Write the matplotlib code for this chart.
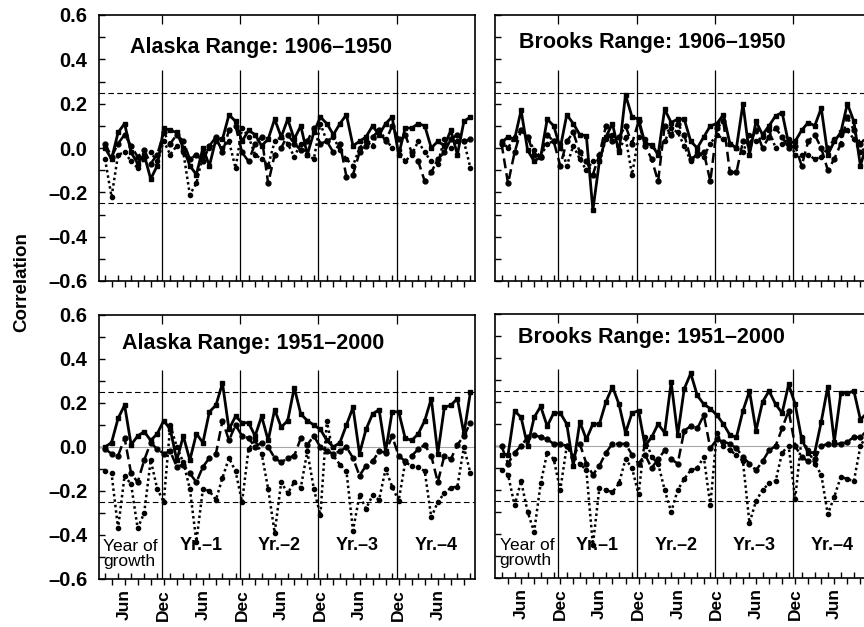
import numpy as np
import matplotlib
matplotlib.use("Agg")
from matplotlib import pyplot as plt
from matplotlib.ticker import FixedLocator, MultipleLocator

plt.rcParams['font.family'] = ['Liberation Sans', 'DejaVu Sans']

# month index 0 = Mar of the year of growth ... 56 = Nov of Yr.-4
month_names = ['Mar', 'Apr', 'May', 'Jun', 'Jul', 'Aug', 'Sep', 'Oct', 'Nov', 'Dec', 'Jan', 'Feb']
labelled_months = ['Jun', 'Dec']
block_labels = ['Yr.\u20131', 'Yr.\u20132', 'Yr.\u20133', 'Yr.\u20134']
first_block_label = 'Year of\ngrowth'
y_ticks = [-0.6, -0.4, -0.2, 0.0, 0.2, 0.4, 0.6]
y_ticklabels = ['\u20130.6', '\u20130.4', '\u20130.2', '0.0', '0.2', '0.4', '0.6']
signif = 0.25

# Alaska Range 1906-1950
ak_early_solid = [0.00, -0.05, 0.07, 0.11, -0.02, -0.07, -0.03, -0.14, -0.08, 0.09,
                  0.08, 0.07, 0.00, -0.08, -0.12, 0.00, -0.08, 0.04, 0.04, 0.15, 0.12, 0.03,
                  0.08, 0.06, 0.01, 0.04, 0.13, 0.05, 0.13, 0.04, 0.10, -0.03, 0.07, 0.14,
                  0.11, 0.06, 0.11, 0.15, 0.01, 0.03, 0.05, 0.10, 0.06, 0.11, 0.14, -0.03,
                  0.09, 0.09, 0.11, 0.10, 0.00, 0.03, 0.01, 0.08, -0.03, 0.12, 0.14]
ak_early_dashed = [0.02, -0.04, 0.02, 0.06, 0.01, -0.04, -0.01, -0.07, -0.03, 0.07,
                   0.02, 0.06, 0.03, -0.05, -0.03, -0.06, 0.01, 0.05, -0.02, 0.08, 0.10, -0.02,
                   -0.06, 0.02, 0.05, -0.16, -0.03, 0.00, 0.06, 0.02, -0.01, 0.03, 0.09, 0.02,
                   0.03, -0.02, 0.02, -0.13, -0.12, -0.02, 0.01, 0.05, 0.08, 0.03, 0.10, 0.04,
                   0.06, -0.02, -0.06, -0.15, -0.11, -0.05, -0.02, 0.04, 0.06, 0.03, 0.04]
ak_early_dotted = [-0.05, -0.22, -0.03, -0.02, -0.06, -0.09, -0.05, -0.02, -0.06, 0.03,
                   -0.03, 0.01, -0.02, -0.21, -0.16, -0.03, 0.00, 0.03, 0.00, 0.03, -0.09, 0.09,
                   0.05, -0.03, -0.05, -0.08, 0.03, 0.05, 0.02, -0.04, 0.02, -0.03, -0.05, 0.11,
                   0.03, 0.05, -0.01, -0.05, -0.08, 0.00, 0.03, 0.01, 0.08, 0.04, 0.00, -0.01,
                   -0.06, -0.03, 0.03, -0.02, -0.06, -0.07, 0.04, 0.00, 0.03, 0.03, -0.09]

# Brooks Range 1906-1950
br_early_solid = [0.025, 0.05, 0.04, 0.17, -0.01, -0.06, -0.04, 0.13, 0.10, 0.00,
                  0.15, 0.11, 0.06, 0.055, -0.28, -0.06, 0.05, 0.11, -0.02, 0.24, 0.14, 0.13,
                  0.02, 0.015, -0.03, 0.175, 0.115, 0.13, 0.13, 0.03, 0.00, 0.05, 0.10, 0.11,
                  0.15, 0.02, 0.00, 0.20, -0.03, 0.12, 0.06, 0.10, 0.145, 0.16, 0.02, 0.03,
                  0.08, 0.115, 0.10, 0.18, -0.03, 0.03, 0.07, 0.20, 0.12, -0.08, 0.02]
br_early_dashed = [0.02, -0.16, -0.02, 0.08, 0.05, -0.03, -0.04, 0.06, 0.03, -0.08,
                   0.03, 0.07, -0.02, -0.06, -0.12, -0.03, 0.10, 0.03, 0.05, 0.10, 0.02, 0.12,
                   0.01, -0.05, -0.15, 0.10, 0.06, 0.11, 0.06, -0.05, -0.03, -0.02, -0.15, 0.09,
                   0.12, -0.11, -0.11, 0.03, 0.02, 0.08, 0.00, 0.05, 0.09, 0.05, 0.00, 0.01,
                   -0.08, 0.03, 0.06, 0.00, -0.10, -0.05, 0.02, 0.14, 0.08, 0.02, 0.05]
br_early_dotted = [0.03, 0.00, 0.05, 0.08, 0.05, -0.01, -0.04, 0.02, 0.03, 0.02,
                   -0.08, 0.01, -0.05, -0.10, -0.06, -0.06, 0.04, 0.06, -0.01, 0.05, -0.12, 0.05,
                   0.04, 0.01, -0.02, 0.03, 0.09, 0.07, 0.01, -0.06, -0.02, -0.04, 0.02, 0.06,
                   0.04, 0.02, 0.00, -0.02, 0.06, 0.03, 0.05, 0.08, 0.00, 0.02, 0.04, -0.03,
                   -0.03, -0.03, -0.05, -0.04, 0.00, 0.04, 0.06, 0.08, 0.04, -0.02, 0.01]

# Alaska Range 1951-2000
ak_late_solid = [0.00, 0.02, 0.13, 0.19, 0.01, 0.05, 0.07, 0.03, 0.06, 0.12,
                 0.08, -0.06, 0.05, -0.06, 0.06, 0.02, 0.16, 0.19, 0.29, 0.08, 0.14, 0.11,
                 0.11, 0.05, 0.14, 0.03, 0.17, 0.09, 0.12, 0.27, 0.15, 0.12, 0.10, 0.08,
                 0.03, 0.00, 0.02, 0.10, 0.18, -0.03, 0.08, 0.15, 0.17, -0.02, 0.16, 0.16,
                 0.04, 0.03, 0.06, 0.12, 0.22, -0.03, 0.18, 0.19, 0.22, 0.06, 0.25]
ak_late_dashed = [-0.01, -0.03, -0.04, 0.04, -0.12, -0.16, -0.06, 0.02, -0.01, -0.03,
                  -0.02, -0.09, -0.08, -0.12, -0.16, -0.09, -0.05, -0.03, 0.12, 0.03, 0.10, 0.05,
                  0.04, 0.00, 0.02, 0.00, -0.05, -0.07, -0.05, -0.04, 0.04, 0.01, 0.05, 0.00,
                  -0.02, -0.03, -0.02, 0.00, -0.05, -0.13, -0.085, -0.065, -0.02, -0.025, 0.05, -0.04,
                  -0.065, -0.04, -0.01, 0.01, -0.04, -0.16, -0.04, -0.055, 0.01, 0.05, 0.11]
ak_late_dotted = [-0.11, -0.12, -0.37, -0.13, -0.17, -0.37, -0.30, -0.06, -0.19, -0.25,
                  0.10, 0.00, -0.07, -0.19, -0.43, -0.19, -0.20, -0.24, -0.14, -0.05, -0.11, -0.25,
                  -0.01, 0.03, -0.03, -0.19, -0.39, -0.16, -0.21, -0.16, -0.185, -0.02, -0.19, -0.31,
                  0.12, -0.04, -0.08, -0.11, -0.38, -0.22, -0.28, -0.22, -0.24, -0.10, -0.18, -0.245,
                  -0.07, -0.085, -0.09, -0.11, -0.32, -0.25, -0.21, -0.185, -0.18, 0.00, -0.12]

# Brooks Range 1951-2000
br_late_solid = [-0.04, -0.04, 0.16, 0.13, 0.00, 0.13, 0.18, 0.09, 0.15, 0.15,
                 0.10, -0.09, 0.11, 0.03, 0.10, 0.10, 0.20, 0.27, 0.19, 0.06, 0.15, 0.16,
                 0.00, 0.04, 0.10, 0.06, 0.29, 0.05, 0.26, 0.33, 0.23, 0.19, 0.17, 0.14,
                 0.10, 0.05, 0.04, 0.16, 0.25, 0.07, 0.20, 0.25, 0.19, 0.15, 0.28, 0.19,
                 0.03, -0.03, -0.03, 0.11, 0.27, 0.02, 0.24, 0.24, 0.25, 0.12, 0.15]
br_late_dashed = [0.00, -0.08, -0.03, 0.00, 0.04, 0.05, 0.04, 0.03, 0.01, 0.01,
                  0.00, -0.05, 0.01, -0.08, -0.13, -0.09, -0.03, 0.01, 0.01, 0.01, -0.04, -0.08,
                  -0.04, -0.10, -0.06, -0.02, -0.06, -0.08, 0.07, 0.09, 0.08, 0.14, -0.01, 0.03,
                  0.02, 0.01, -0.01, -0.05, -0.08, -0.11, -0.07, -0.02, 0.00, 0.08, 0.16, 0.00,
                  -0.05, -0.07, -0.06, 0.00, 0.01, 0.01, 0.01, 0.02, 0.04, 0.04, 0.07]
br_late_dotted = [-0.11, -0.13, -0.27, -0.16, -0.30, -0.39, -0.17, -0.03, -0.06, -0.20,
                  0.00, -0.05, -0.08, -0.11, -0.45, -0.19, -0.20, -0.21, -0.17, -0.06, -0.10, -0.22,
                  0.04, -0.05, -0.08, -0.20, -0.30, -0.20, -0.15, -0.11, -0.10, -0.05, -0.27, 0.06,
                  0.00, -0.02, -0.04, -0.07, -0.35, -0.25, -0.20, -0.17, -0.16, -0.03, 0.00, -0.24,
                  0.04, -0.02, -0.08, -0.13, -0.31, -0.23, -0.14, -0.15, -0.16, 0.00, 0.05]

months = np.arange(len(ak_late_solid))
x_lo, x_hi = -1.0, 56.7
year_breaks = [8.7, 20.7, 32.7, 44.7]


def draw_panel(ax, title, title_pos, solid, dashed, dotted, lower, left):
    ax.set_xlim(x_lo, x_hi)
    ax.set_ylim(-0.6, 0.6)

    ax.axhline(signif, color='black', lw=0.8, dashes=(5, 3))
    ax.axhline(-signif, color='black', lw=0.8, dashes=(5, 3))
    if lower:
        ax.axhline(0.0, color='0.65', lw=0.8)
    ax.vlines(year_breaks, -0.6, 0.35, color='black', lw=0.9)
    # short marks on the top edge at the year breaks
    ax.vlines(year_breaks, 0.56, 0.6, color='black', lw=0.9)

    ax.plot(months, solid, color='black', lw=2.0, marker='s', ms=3.5)
    ax.plot(months, dashed, color='black', lw=1.8, dashes=(4, 2), marker='o', ms=3.5)
    ax.plot(months, dotted, color='black', lw=1.8, dashes=(1, 1.2), marker='o', ms=3)

    ax.text(title_pos[0], title_pos[1], title, transform=ax.transAxes,
            fontsize=15.5, fontweight='bold', va='center', ha='left')

    # months: odd ones ticked outward, even ones inward
    odd = months[1::2]
    ax.xaxis.set_major_locator(FixedLocator(odd))
    ax.xaxis.set_minor_locator(FixedLocator(months[0::2]))
    ax.tick_params(axis='x', which='major', direction='out', length=4, width=1)
    ax.tick_params(axis='x', which='minor', direction='in', length=4, width=1)
    if lower:
        labels = []
        for m in odd:
            name = month_names[m % 12]
            labels.append(name if name in labelled_months else '')
        ax.set_xticklabels(labels, rotation=90, fontsize=12.5, fontweight='bold')
        ax.text(0.012, 0.095, first_block_label, transform=ax.transAxes,
                fontsize=12.5, va='center', ha='left', linespacing=1.05)
        edges = year_breaks + [x_hi]
        for k, lab in enumerate(block_labels):
            ax.text((edges[k] + edges[k + 1]) / 2, -0.45, lab, fontsize=13,
                    fontweight='bold', ha='center', va='center')
    else:
        ax.set_xticklabels([])

    ax.set_yticks(y_ticks)
    ax.yaxis.set_minor_locator(MultipleLocator(0.1))
    ax.tick_params(axis='y', which='both', direction='in', length=4, width=1)
    if left:
        ax.set_yticklabels(y_ticklabels, fontsize=14.5, fontweight='bold')
        ax.tick_params(axis='y', pad=8)
    else:
        ax.set_yticklabels([])

    for s in ax.spines.values():
        s.set_linewidth(1.2)


fig = plt.figure(figsize=(8.64, 6.27), dpi=100)
w = 376.5 / 864
ax_ul = fig.add_axes([98.5 / 864, 1 - 281 / 627, w, 266 / 627])
ax_ur = fig.add_axes([495 / 864, 1 - 281 / 627, w, 266 / 627])
ax_ll = fig.add_axes([98.5 / 864, 1 - 579 / 627, w, 264 / 627])
ax_lr = fig.add_axes([495 / 864, 1 - 578 / 627, w, 264 / 627])

draw_panel(ax_ul, 'Alaska Range: 1906\u20131950', (0.084, 0.876),
           ak_early_solid, ak_early_dashed, ak_early_dotted, False, True)
draw_panel(ax_ur, 'Brooks Range: 1906\u20131950', (0.064, 0.895),
           br_early_solid, br_early_dashed, br_early_dotted, False, False)
draw_panel(ax_ll, 'Alaska Range: 1951\u20132000', (0.062, 0.893),
           ak_late_solid, ak_late_dashed, ak_late_dotted, True, True)
draw_panel(ax_lr, 'Brooks Range: 1951\u20132000', (0.062, 0.91),
           br_late_solid, br_late_dashed, br_late_dotted, True, False)

fig.text(0.025, 0.55, 'Correlation', rotation=90, fontsize=13.5, fontweight='bold',
         ha='center', va='center')

fig.savefig('out.png', dpi=100)
